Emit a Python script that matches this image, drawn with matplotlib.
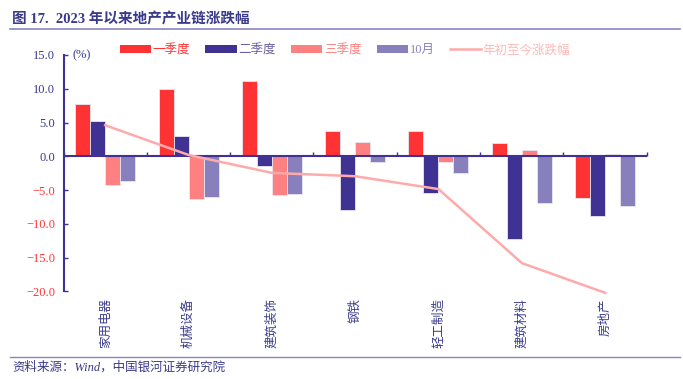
import numpy as np
import matplotlib
matplotlib.use('Agg')
import matplotlib.pyplot as plt
from matplotlib.patches import Patch
from matplotlib.lines import Line2D

plt.rcParams['font.family'] = ['Liberation Serif', 'Noto Sans CJK SC', 'DejaVu Sans']
plt.rcParams['axes.unicode_minus'] = False

# ---------- 数据 ----------
categories = ['家用电器', '机械设备', '建筑装饰', '钢铁', '轻工制造', '建筑材料', '房地产']
q1 = [7.7, 10.0, 11.2, 3.8, 3.75, 1.9, -6.2]
q2 = [5.2, 3.0, -1.5, -7.9, -5.5, -12.3, -8.8]
q3 = [-4.3, -6.3, -5.7, 2.1, -0.8, 1.0, 0.3]
oct_ = [-3.6, -5.95, -5.65, -0.8, -2.4, -6.85, -7.3]
ytd = [4.6, 0.2, -2.45, -2.95, -4.85, -15.8, -20.2]
series_names = ['一季度', '二季度', '三季度', '10月', '年初至今涨跌幅']

c_red = '#FF3333'
c_navy = '#403292'
c_pink = '#FF8080'
c_purple = '#8880BC'
c_line = '#FFAAAA'
c_text = '#3A3A8C'

fig = plt.figure(figsize=(6.83, 3.79), dpi=100)
ax = fig.add_axes([0.093, 0.231, 0.854, 0.624])

x = np.arange(len(categories))
w = 0.18
bars = [(q1, c_red), (q2, c_navy), (q3, c_pink), (oct_, c_purple)]
for k, (vals, col) in enumerate(bars):
    ax.bar(x + (k - 1.5) * w, vals, w, color=col, edgecolor='#E8E6F2', linewidth=0.6, zorder=2)

ax.plot(x, ytd, color=c_line, linewidth=1.8, zorder=4, clip_on=False)

ax.set_xlim(-0.5, len(categories) - 0.5)
ax.set_ylim(-20, 15)
yt = np.arange(-20, 16, 5)
ax.set_yticks(yt)
ax.set_yticklabels([f'{v:.1f}' if v >= 0 else f'−{abs(v):.1f}' for v in yt], fontsize=9)
for t, v in zip(ax.get_yticklabels(), yt):
    t.set_color(c_text if v >= 0 else c_red)
ax.tick_params(axis='y', direction='in', length=3, width=1, color=c_navy, pad=6)

ax.set_xticks(x)
ax.set_xticklabels(categories, rotation=90, fontsize=9,
                   color=c_text, va='top', family=['Noto Sans CJK SC'])
ax.tick_params(axis='x', length=0, pad=5)

for s in ['top', 'right', 'bottom']:
    ax.spines[s].set_visible(False)
ax.spines['left'].set_color(c_navy)
ax.spines['left'].set_linewidth(1.5)

# 零轴（带分类分隔刻度）
ax.axhline(0, color=c_navy, linewidth=1.5, zorder=3)
sec = ax.secondary_xaxis(20 / 35)
sec.set_xticks(np.arange(-0.5, len(categories), 1.0))
sec.set_xticklabels([])
sec.tick_params(direction='out', length=3, width=1, color=c_navy)
for s in sec.spines.values():
    s.set_visible(False)

ax.text(0.015, 15, '(%)', transform=ax.get_yaxis_transform(), fontsize=9, color=c_text,
        va='center', ha='left')

# 图例
handles = [Patch(facecolor=c_red), Patch(facecolor=c_navy), Patch(facecolor=c_pink),
           Patch(facecolor=c_purple), Line2D([], [], color=c_line, linewidth=1.8)]
leg = fig.legend(handles, series_names, loc='center', bbox_to_anchor=(345 / 683, 1 - 50 / 379),
                 ncol=5, frameon=False, handlelength=2.5, handleheight=0.55,
                 handletextpad=0.15, columnspacing=1.2,
                 prop={'family': ['Liberation Serif', 'Noto Sans CJK SC'], 'size': 9})
for t, col in zip(leg.get_texts(), [c_red, '#6A60A8', c_pink, c_purple, '#FFB8B8']):
    t.set_color(col)

# 标题与来源
fig.text(12 / 683, 1 - 19 / 379, '图 17.  2023 年以来地产产业链涨跌幅', fontsize=10.5,
         fontweight='bold', color=c_text, va='center', ha='left')
fig.add_artist(Line2D([10 / 683, 680 / 683], [1 - 29 / 379, 1 - 29 / 379],
                      color='#8A84C0', linewidth=1.2))
fig.add_artist(Line2D([10 / 683, 680 / 683], [1 - 357 / 379, 1 - 357 / 379],
                      color='#8A84C0', linewidth=1.0))
fig.text(12 / 683, 1 - 367 / 379, '资料来源：Wind，中国银河证券研究院', fontsize=9,
         style='italic', color=c_text, va='center', ha='left')

fig.savefig('out.png', dpi=100)
